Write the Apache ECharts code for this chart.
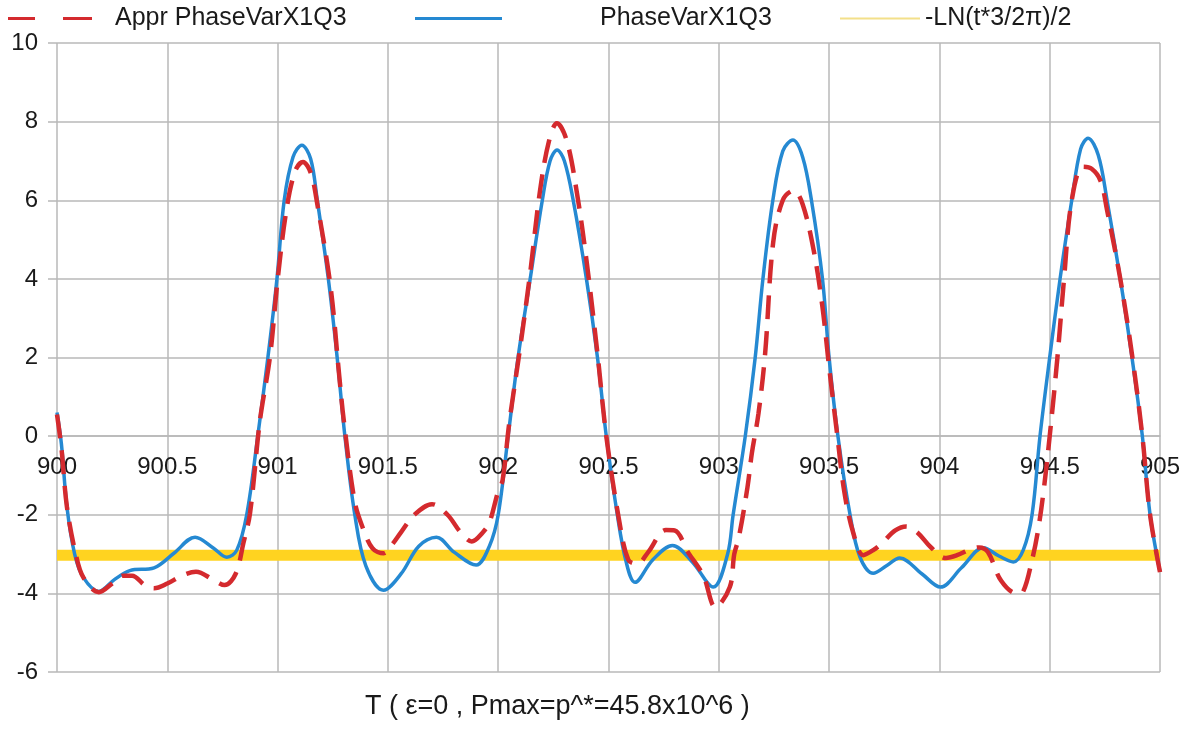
<!DOCTYPE html>
<html>
<head>
<meta charset="utf-8">
<script src="https://cdn.jsdelivr.net/npm/echarts@6/dist/echarts.min.js"></script>
<style>
html,body{margin:0;padding:0;background:#fff;}
#chart{width:1199px;height:736px;}
</style>
</head>
<body>
<div id="chart"></div>
<script>
// ---- Data ----
const apprName = 'Appr PhaseVarX1Q3';
const phaseName = 'PhaseVarX1Q3';
const lnName = '-LN(t*3/2π)/2';
const xAxisTitle = 'T ( ε=0 , Pmax=p^*=45.8x10^6 )';

const phaseT = [900.00,900.02,900.045,900.08,900.12,900.19,900.26,900.33,900.44,900.53,900.626,900.71,900.77,900.815,900.86,900.91,900.956,900.997,901.03,901.07,901.11,901.15,901.18,901.23,901.27,901.305,901.35,901.40,901.48,901.56,901.64,901.72,901.80,901.90,901.96,902.00,902.045,902.09,902.145,902.20,902.235,902.267,902.30,902.34,902.40,902.45,902.49,902.54,902.58,902.62,902.70,902.79,902.88,902.975,903.04,903.065,903.12,903.165,903.20,903.245,903.29,903.336,903.38,903.42,903.47,903.50,903.54,903.595,903.64,903.70,903.76,903.82,903.92,904.005,904.10,904.20,904.27,904.335,904.38,904.42,904.456,904.50,904.547,904.60,904.64,904.674,904.72,904.76,904.82,904.873,904.92,904.955,905.00];
const phaseV = [0.6,-0.2,-1.8,-3.0,-3.6,-3.95,-3.65,-3.42,-3.35,-2.98,-2.57,-2.85,-3.08,-2.9,-2.0,0,2,4,6,7.1,7.4,7.05,6,4,2,0,-2,-3.3,-3.92,-3.5,-2.8,-2.57,-2.95,-3.28,-2.8,-2.0,0,2,4,6,7.0,7.28,7.0,6,4,2,0,-2,-3.2,-3.72,-3.15,-2.78,-3.2,-3.84,-3.0,-2,0,2,4,6,7.25,7.53,7.1,6,4,2,0,-2,-3.08,-3.49,-3.3,-3.1,-3.5,-3.84,-3.35,-2.84,-3.05,-3.2,-2.9,-2.0,0,2,4,6,7.3,7.58,7.15,6,4,2,0,-2,-3.45];

const apprT = [900.00,900.02,900.045,900.085,900.12,900.19,900.25,900.30,900.34,900.40,900.44,900.50,900.57,900.63,900.71,900.76,900.81,900.845,900.875,900.92,900.965,901.00,901.04,901.08,901.115,901.15,901.18,901.24,901.28,901.30,901.35,901.39,901.43,901.48,901.52,901.56,901.62,901.70,901.77,901.83,901.88,901.93,901.96,902.00,902.02,902.05,902.10,902.145,902.19,902.23,902.266,902.31,902.357,902.40,902.45,902.49,902.55,902.59,902.63,902.68,902.76,902.80,902.86,902.93,902.985,903.05,903.07,903.09,903.13,903.15,903.18,903.21,903.246,903.29,903.34,903.38,903.43,903.47,903.50,903.536,903.57,903.61,903.655,903.70,903.74,903.80,903.85,903.90,903.96,904.03,904.08,904.14,904.18,904.22,904.28,904.35,904.38,904.42,904.445,904.47,904.50,904.535,904.565,904.60,904.65,904.69,904.73,904.76,904.82,904.875,904.92,904.955,905.00];
const apprV = [0.55,-0.3,-1.8,-3.0,-3.6,-3.97,-3.75,-3.55,-3.55,-3.8,-3.87,-3.75,-3.54,-3.45,-3.66,-3.79,-3.5,-2.72,-1.96,0.4,2.0,3.97,5.75,6.75,6.97,6.7,5.9,3.8,1.5,0.4,-1.68,-2.39,-2.85,-2.98,-2.75,-2.44,-2.0,-1.73,-2.0,-2.45,-2.68,-2.45,-2.2,-1.4,-1.12,0.33,2.27,4.15,6.26,7.5,7.96,7.53,6.18,4.48,2.1,0,-2.2,-3.15,-3.25,-2.95,-2.39,-2.4,-2.95,-3.55,-4.35,-3.84,-3.0,-2.6,-1.3,-0.43,0.58,2.1,4.9,6.0,6.25,5.9,4.73,3.28,1.76,0.07,-1.45,-2.47,-3.03,-2.9,-2.72,-2.4,-2.3,-2.45,-2.82,-3.1,-3.03,-2.88,-2.83,-2.95,-3.68,-4.0,-3.95,-3.15,-2.47,-1.5,0,2,4,6,6.85,6.8,6.5,5.75,4.0,2.0,0,-2.0,-3.46];

const lnT = [900, 905];
const lnV = [-3.03, -3.03];

function pairs(t, v){ return t.map((x,i)=>[x, v[i]]); }

const FONT = '"Liberation Sans", Arial, Helvetica, sans-serif';
const RED = '#d42a2e', BLUE = '#2589d2', YEL = '#ffd320', GRID = '#b8b8b8', TXT = '#1a1a1a';
const LEG_FONT = {fontFamily: FONT, fontSize: 25, color: TXT};

const chart = echarts.init(document.getElementById('chart'), null, {renderer:'canvas'});
chart.setOption({
  animation: false,
  backgroundColor: '#fff',
  textStyle: {fontFamily: FONT},
  title: {
    text: xAxisTitle, left: 360, top: 688,
    textStyle: {fontFamily: FONT, fontSize: 27, fontWeight: 'normal', color: TXT}
  },
  legend: [
    {left: 8, top: 6, padding: 0, itemWidth: 84, itemHeight: 3, symbolKeepAspect: false,
     data: [{name: apprName, icon: 'path://M0,0H27V1H0ZM55,0H84V1H55Z', itemStyle: {color: RED}}],
     textStyle: Object.assign({padding: [0,0,0,18]}, LEG_FONT)},
    {left: 415, top: 6, padding: 0, itemWidth: 87, itemHeight: 3, symbolKeepAspect: false,
     data: [{name: phaseName, icon: 'path://M0,0H10V1H0Z', itemStyle: {color: BLUE}}],
     textStyle: Object.assign({padding: [0,0,0,93]}, LEG_FONT)},
    {left: 840, top: 6, padding: 0, itemWidth: 80, itemHeight: 2, symbolKeepAspect: false,
     data: [{name: lnName, icon: 'path://M0,0H10V1H0Z', itemStyle: {color: '#f3e08a'}}],
     textStyle: LEG_FONT}
  ],
  grid: {left: 57, right: 39, top: 43, bottom: 64, containLabel: false},
  xAxis: {
    type: 'value', min: 900, max: 905, interval: 0.5, position: 'bottom',
    axisLine: {show: true, onZero: false, lineStyle: {color: GRID, width: 1.5}},
    axisTick: {show: false},
    axisLabel: {fontFamily: FONT, fontSize: 24, color: TXT, margin: 19,
      showMinLabel: true, showMaxLabel: true},
    splitLine: {show: true, lineStyle: {color: GRID, width: 1.5}}
  },
  yAxis: {
    type: 'value', min: -6, max: 10, interval: 2,
    axisLine: {show: false, onZero: false},
    axisTick: {show: true, length: 9, lineStyle: {color: GRID, width: 1.5}},
    axisLabel: {fontFamily: FONT, fontSize: 24, color: TXT, margin: 19},
    splitLine: {show: true, lineStyle: {color: GRID, width: 1.5}}
  },
  series: [
    {name: lnName, type: 'line', data: pairs(lnT, lnV), symbol: 'none',
     lineStyle: {color: YEL, width: 11}, itemStyle: {color: YEL}, z: 2},
    {name: phaseName, type: 'line', data: pairs(phaseT, phaseV), symbol: 'none', smooth: 0.35,
     lineStyle: {color: BLUE, width: 3.5}, itemStyle: {color: BLUE}, z: 3},
    {name: apprName, type: 'line', data: pairs(apprT, apprV), symbol: 'none', smooth: 0.35,
     lineStyle: {color: RED, width: 4.5, type: [24, 12]}, itemStyle: {color: RED}, z: 4}
  ]
});
// Put the x axis (line + labels) on y = 0, as in the reference.
const yZero = chart.convertToPixel({yAxisIndex: 0}, 0);
const yBottom = chart.convertToPixel({yAxisIndex: 0}, -6);
chart.setOption({xAxis: {offset: yZero - yBottom}});
</script>
</body>
</html>
